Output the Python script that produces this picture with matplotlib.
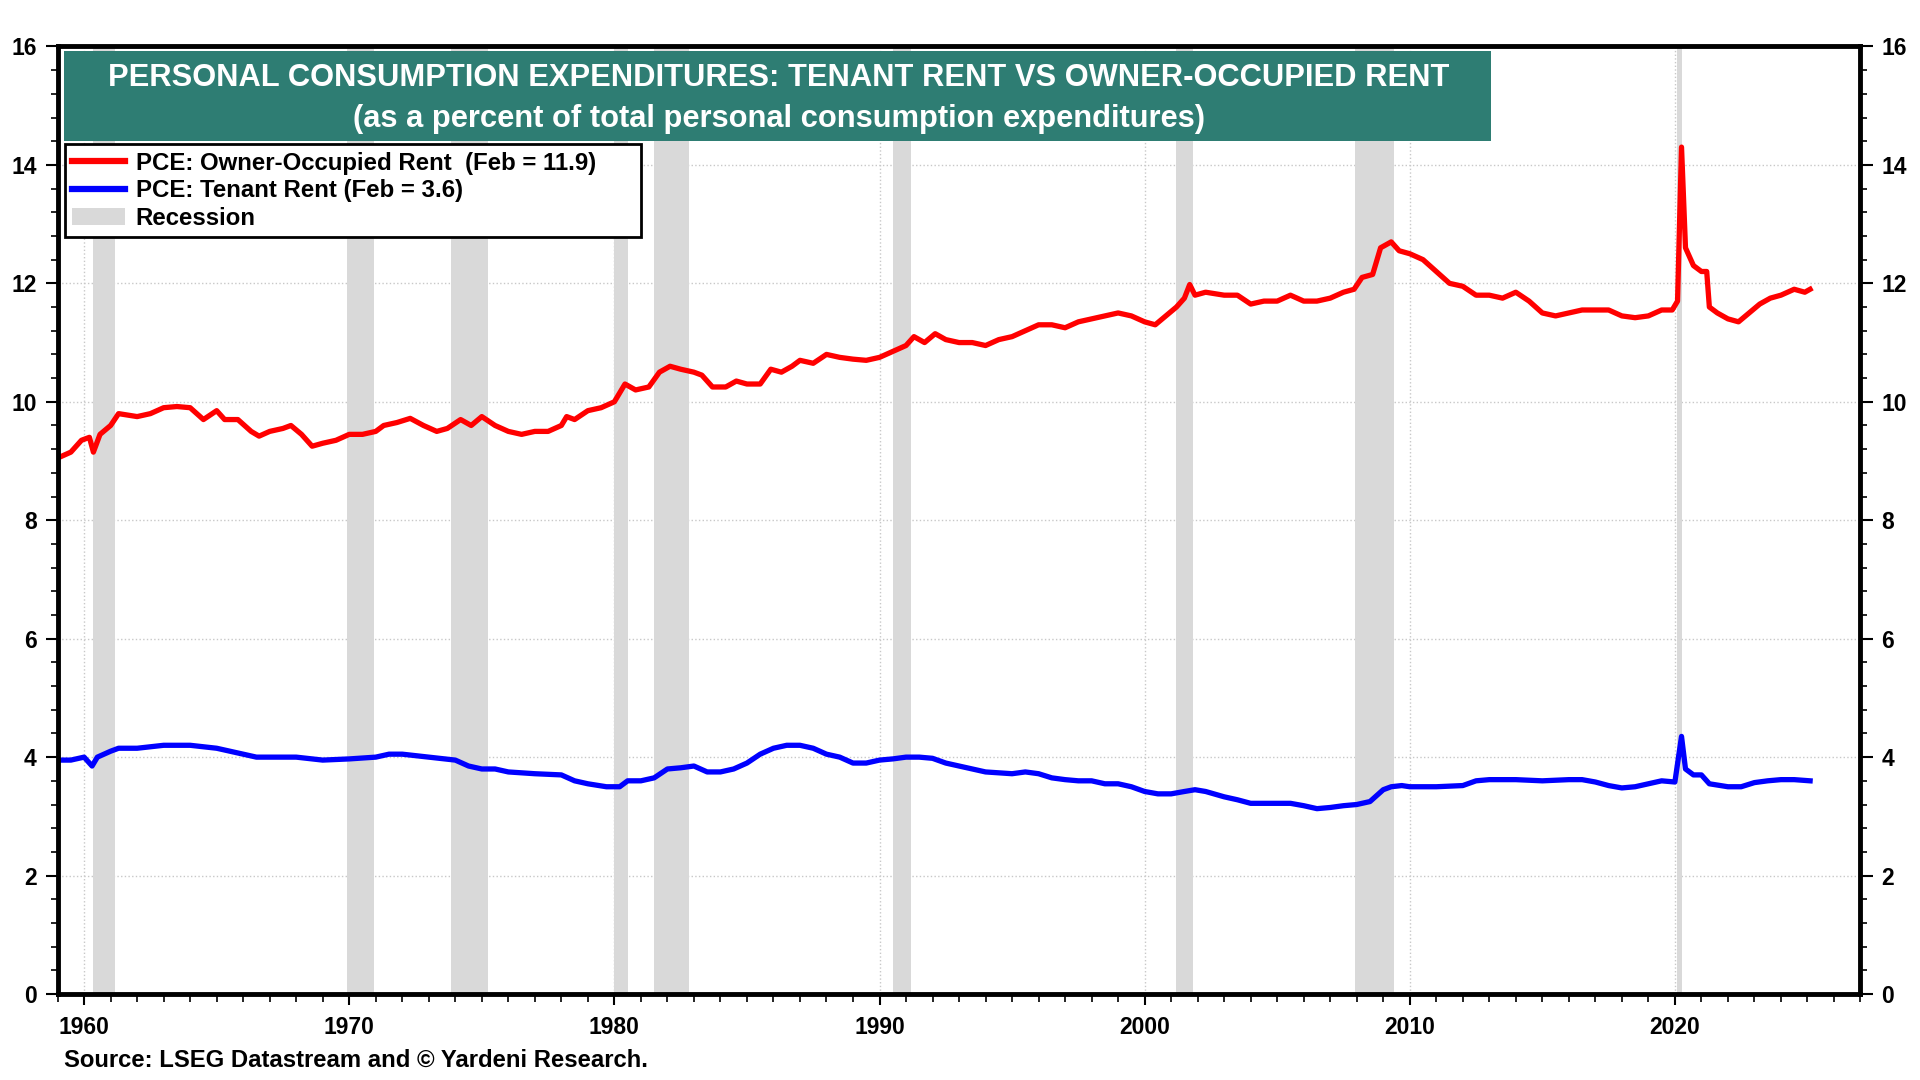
import numpy as np
import matplotlib.pyplot as plt
from matplotlib.patches import Rectangle, Patch
from matplotlib.lines import Line2D

plt.rcParams['font.family'] = ['Liberation Sans', 'DejaVu Sans']
plt.rcParams['font.weight'] = 'bold'

# PCE: owner-occupied rent, % of total PCE
owner_t = [1959.0, 1959.5, 1959.9, 1960.2, 1960.35, 1960.6, 1961.0, 1961.3, 1962.0, 1962.5,
           1963.0, 1963.5, 1964.0, 1964.5, 1965.0, 1965.3, 1965.8, 1966.3, 1966.6, 1967.0,
           1967.5, 1967.8, 1968.2, 1968.6, 1969.0, 1969.5, 1970.0, 1970.5, 1971.0, 1971.3,
           1971.8, 1972.3, 1972.8, 1973.3, 1973.7, 1974.2, 1974.6, 1975.0, 1975.5, 1976.0,
           1976.5, 1977.0, 1977.5, 1978.0, 1978.2, 1978.5, 1979.0, 1979.5, 1980.0, 1980.4,
           1980.8, 1981.3, 1981.7, 1982.1, 1982.5, 1983.0, 1983.3, 1983.7, 1984.2, 1984.6,
           1985.0, 1985.5, 1985.9, 1986.3, 1986.7, 1987.0, 1987.5, 1988.0, 1988.5, 1989.0,
           1989.5, 1990.0, 1990.5, 1991.0, 1991.3, 1991.7, 1992.1, 1992.5, 1993.0, 1993.5,
           1994.0, 1994.5, 1995.0, 1995.5, 1996.0, 1996.5, 1997.0, 1997.5, 1998.0, 1998.5,
           1999.0, 1999.5, 2000.0, 2000.4, 2000.8, 2001.2, 2001.5, 2001.7, 2001.9, 2002.3,
           2003.0, 2003.5, 2004.0, 2004.5, 2005.0, 2005.5, 2006.0, 2006.5, 2007.0, 2007.5,
           2007.9, 2008.2, 2008.6, 2008.9, 2009.3, 2009.6, 2010.0, 2010.5, 2011.0, 2011.5,
           2012.0, 2012.5, 2013.0, 2013.5, 2014.0, 2014.5, 2015.0, 2015.5, 2016.0, 2016.5,
           2017.0, 2017.5, 2018.0, 2018.5, 2019.0, 2019.5, 2019.9, 2020.1, 2020.25, 2020.4,
           2020.7, 2021.0, 2021.2, 2021.3, 2021.6, 2022.0, 2022.4, 2022.8, 2023.2, 2023.6,
           2024.0, 2024.5, 2024.9, 2025.1]
owner_v = [9.05, 9.15, 9.35, 9.4, 9.15, 9.45, 9.6, 9.8, 9.75, 9.8,
           9.9, 9.92, 9.9, 9.7, 9.85, 9.7, 9.7, 9.5, 9.42, 9.5,
           9.55, 9.6, 9.45, 9.25, 9.3, 9.35, 9.45, 9.45, 9.5, 9.6,
           9.65, 9.72, 9.6, 9.5, 9.55, 9.7, 9.6, 9.75, 9.6, 9.5,
           9.45, 9.5, 9.5, 9.6, 9.75, 9.7, 9.85, 9.9, 10.0, 10.3,
           10.2, 10.25, 10.5, 10.6, 10.55, 10.5, 10.45, 10.25, 10.25, 10.35,
           10.3, 10.3, 10.55, 10.5, 10.6, 10.7, 10.65, 10.8, 10.75, 10.72,
           10.7, 10.75, 10.85, 10.95, 11.1, 11.0, 11.15, 11.05, 11.0, 11.0,
           10.95, 11.05, 11.1, 11.2, 11.3, 11.3, 11.25, 11.35, 11.4, 11.45,
           11.5, 11.45, 11.35, 11.3, 11.45, 11.6, 11.75, 11.98, 11.8, 11.85,
           11.8, 11.8, 11.65, 11.7, 11.7, 11.8, 11.7, 11.7, 11.75, 11.85,
           11.9, 12.1, 12.15, 12.6, 12.7, 12.55, 12.5, 12.4, 12.2, 12.0,
           11.95, 11.8, 11.8, 11.75, 11.85, 11.7, 11.5, 11.45, 11.5, 11.55,
           11.55, 11.55, 11.45, 11.42, 11.45, 11.55, 11.55, 11.7, 14.3, 12.6,
           12.3, 12.2, 12.2, 11.6, 11.5, 11.4, 11.35, 11.5, 11.65, 11.75,
           11.8, 11.9, 11.85, 11.9]

# PCE: tenant rent, % of total PCE
tenant_t = [1959.0, 1959.5, 1960.0, 1960.3, 1960.5, 1961.0, 1961.3, 1962.0, 1963.0, 1964.0,
            1965.0, 1965.5, 1966.0, 1966.5, 1967.0, 1968.0, 1969.0, 1970.0, 1971.0, 1971.5,
            1972.0, 1973.0, 1974.0, 1974.5, 1975.0, 1975.5, 1976.0, 1977.0, 1978.0, 1978.5,
            1979.0, 1979.7, 1980.2, 1980.5, 1981.0, 1981.5, 1982.0, 1982.5, 1983.0, 1983.5,
            1984.0, 1984.5, 1985.0, 1985.5, 1986.0, 1986.5, 1987.0, 1987.5, 1988.0, 1988.5,
            1989.0, 1989.5, 1990.0, 1990.5, 1991.0, 1991.5, 1992.0, 1992.5, 1993.0, 1993.5,
            1994.0, 1995.0, 1995.5, 1996.0, 1996.5, 1997.0, 1997.5, 1998.0, 1998.5, 1999.0,
            1999.5, 2000.0, 2000.5, 2001.0, 2001.5, 2001.9, 2002.3, 2003.0, 2003.5, 2004.0,
            2004.5, 2005.0, 2005.5, 2006.0, 2006.5, 2007.0, 2007.5, 2008.0, 2008.5, 2009.0,
            2009.3, 2009.7, 2010.0, 2011.0, 2012.0, 2012.5, 2013.0, 2014.0, 2015.0, 2016.0,
            2016.5, 2017.0, 2017.5, 2018.0, 2018.5, 2019.0, 2019.5, 2020.0, 2020.25, 2020.4,
            2020.7, 2021.0, 2021.3, 2022.0, 2022.5, 2023.0, 2023.5, 2024.0, 2024.5, 2025.1]
tenant_v = [3.95, 3.95, 4.0, 3.85, 4.0, 4.1, 4.15, 4.15, 4.2, 4.2,
            4.15, 4.1, 4.05, 4.0, 4.0, 4.0, 3.95, 3.97, 4.0, 4.05,
            4.05, 4.0, 3.95, 3.85, 3.8, 3.8, 3.75, 3.72, 3.7, 3.6,
            3.55, 3.5, 3.5, 3.6, 3.6, 3.65, 3.8, 3.82, 3.85, 3.75,
            3.75, 3.8, 3.9, 4.05, 4.15, 4.2, 4.2, 4.15, 4.05, 4.0,
            3.9, 3.9, 3.95, 3.97, 4.0, 4.0, 3.98, 3.9, 3.85, 3.8,
            3.75, 3.72, 3.75, 3.72, 3.65, 3.62, 3.6, 3.6, 3.55, 3.55,
            3.5, 3.42, 3.38, 3.38, 3.42, 3.45, 3.42, 3.33, 3.28, 3.22,
            3.22, 3.22, 3.22, 3.18, 3.13, 3.15, 3.18, 3.2, 3.25, 3.45,
            3.5, 3.52, 3.5, 3.5, 3.52, 3.6, 3.62, 3.62, 3.6, 3.62,
            3.62, 3.58, 3.52, 3.48, 3.5, 3.55, 3.6, 3.58, 4.35, 3.8,
            3.7, 3.7, 3.55, 3.5, 3.5, 3.57, 3.6, 3.62, 3.62, 3.6]

# NBER recessions (start, end)
rec_start = [1960.33, 1969.92, 1973.83, 1980.0, 1981.5, 1990.5, 2001.17, 2007.92, 2020.08]
rec_end = [1961.17, 1970.92, 1975.25, 1980.5, 1982.83, 1991.17, 2001.83, 2009.42, 2020.25]

fig = plt.figure(figsize=(19.2, 10.8), dpi=100)
ax = fig.add_axes([0.030, 0.0796, 0.939, 0.8774])

for s, e in zip(rec_start, rec_end):
    ax.axvspan(s, e, color='#d9d9d9', lw=0, zorder=1)

ax.plot(owner_t, owner_v, color='#ff0000', lw=3.8, zorder=3, solid_joinstyle='round')
ax.plot(tenant_t, tenant_v, color='#0000ff', lw=3.8, zorder=3, solid_joinstyle='round')

ax.set_xlim(1959.0, 2027.0)
ax.set_ylim(0, 16)
ax.set_xticks(np.arange(1960, 2021, 10))
ax.set_xticks(np.arange(1959, 2028, 1), minor=True)
ax.set_yticks(np.arange(0, 17, 2))
ax.set_yticks(np.arange(0, 16.01, 0.4), minor=True)
ax.grid(True, which='major', color='#c8c8c8', ls=':', lw=1.0, zorder=0)
ax.set_axisbelow(True)

ax.tick_params(axis='both', which='both', direction='out', color='black')
ax.tick_params(axis='y', which='major', length=9, width=1.5, labelsize=16.5, right=True, labelright=True, pad=6)
ax.tick_params(axis='y', which='minor', length=5, width=1.2, right=True)
ax.tick_params(axis='x', which='major', length=8, width=1.5, labelsize=16.5, pad=8)
ax.tick_params(axis='x', which='minor', length=6, width=1.2)
for lab in ax.get_xticklabels() + ax.get_yticklabels():
    lab.set_fontweight('bold')
for sp in ax.spines.values():
    sp.set_linewidth(3.5)
    sp.set_zorder(6)

# title box
ax.add_patch(Rectangle((0.0034, 0.9005), 0.7916, 0.0945, transform=ax.transAxes,
                       facecolor='#2e7d73', edgecolor='none', zorder=4))
ax.text(0.400, 0.967, 'PERSONAL CONSUMPTION EXPENDITURES: TENANT RENT VS OWNER-OCCUPIED RENT',
        transform=ax.transAxes, ha='center', va='center', color='white',
        fontsize=22.2, fontweight='bold', zorder=5)
ax.text(0.400, 0.9235, '(as a percent of total personal consumption expenditures)',
        transform=ax.transAxes, ha='center', va='center', color='white',
        fontsize=22.2, fontweight='bold', zorder=5)

handles = [Line2D([], [], color='#ff0000', lw=4.5),
           Line2D([], [], color='#0000ff', lw=4.5),
           Patch(facecolor='#d9d9d9', edgecolor='none')]
labels = ['PCE: Owner-Occupied Rent  (Feb = 11.9)',
          'PCE: Tenant Rent (Feb = 3.6)',
          'Recession']
leg = ax.legend(handles, labels, loc='upper left', mode='expand',
                bbox_to_anchor=(0.004, 0.801, 0.3198, 0.0956),
                borderaxespad=0, fancybox=False, framealpha=1, edgecolor='black',
                prop={'size': 17.3, 'weight': 'bold'}, handlelength=2.2, handletextpad=0.45,
                labelspacing=0.2, borderpad=0.3)
leg.get_frame().set_linewidth(2.0)
leg.set_zorder(5)

fig.text(0.0332, 0.018, 'Source: LSEG Datastream and \u00a9 Yardeni Research.',
         fontsize=17.2, fontweight='bold', ha='left', va='center')

fig.savefig('out.png', dpi=100)
